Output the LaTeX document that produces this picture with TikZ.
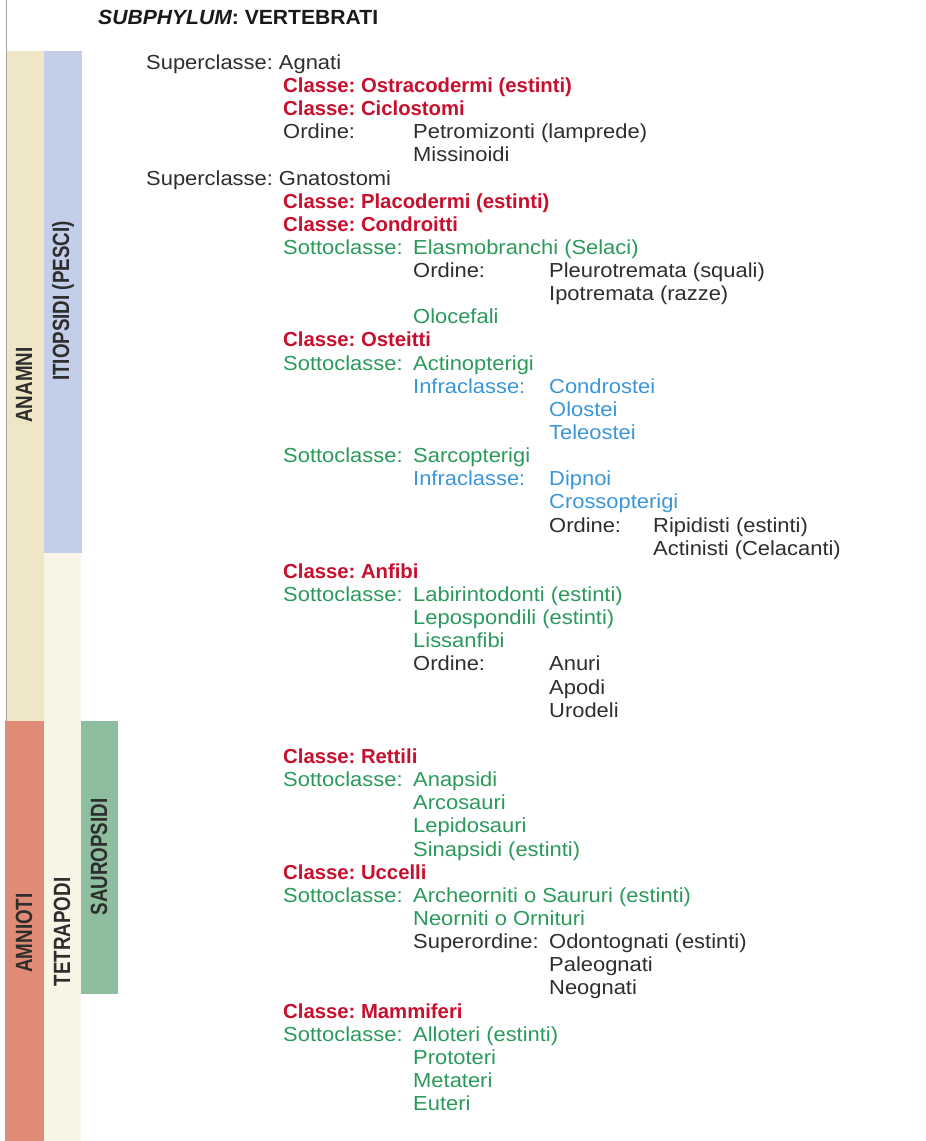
\documentclass[tikz,border=0pt]{standalone}
\usepackage{fontspec}
\setmainfont{Liberation Sans}
\newfontfamily\rgfont{Liberation Sans}[FakeStretch=1.08]
\newfontfamily\bdfont{Liberation Sans}[FakeStretch=1.0]
\newfontfamily\ttlfont{Liberation Sans}[FakeStretch=1.03]
\newfontfamily\condfont{Liberation Sans}[FakeStretch=0.8]
\definecolor{beigeA}{HTML}{EFE6C8}
\definecolor{blueB}{HTML}{C3CFE9}
\definecolor{creamC}{HTML}{F8F5E7}
\definecolor{salmonD}{HTML}{E08B76}
\definecolor{greenE}{HTML}{8DBF9E}
\definecolor{redT}{HTML}{C8102E}
\definecolor{greenT}{HTML}{2A9A5B}
\definecolor{blueT}{HTML}{3A96D8}
\definecolor{txtT}{HTML}{2E2E2E}
\newcommand\Rw[5]{\node[#4] (#1) at (#2,{69.3+23.14*#3}) {#5};}
\begin{document}
\begin{tikzpicture}[x=1pt,y=-1pt,
  tx/.style={anchor=base west, inner sep=0pt, font=\frenchspacing\rgfont\fontsize{20.3}{24}\selectfont, text=txtT},
  cl/.style={tx, font=\frenchspacing\bdfont\bfseries\fontsize{20.3}{24}\selectfont, text=redT},
  gr/.style={tx, text=greenT},
  bl/.style={tx, text=blueT},
  barlab/.style={rotate=90, inner sep=0pt, font=\condfont\bfseries\fontsize{23.5}{26}\selectfont, text=txtT}]
\useasboundingbox[fill=white] (0,0) rectangle (926,1141);
% bars
\fill[beigeA] (7,51) rectangle (44,721);
\fill[blueB] (44,51) rectangle (82,553);
\fill[creamC] (44,553) rectangle (81,1141);
\fill[salmonD] (5,721) rectangle (44,1141);
\fill[greenE] (81,721) rectangle (118,994);
\draw[black!35, line width=1pt] (6,0) -- (6,721);
\node[barlab] (anamni) at (24,385) {ANAMNI};
\node[barlab] (itiop) at (63,301) {ITIOPSIDI (PESCI)};
\node[barlab] (amnioti) at (24,933) {AMNIOTI};
\node[barlab] (tetra) at (62,932) {TETRAPODI};
\node[barlab] (sauro) at (99,857) {SAUROPSIDI};
% title
\node[tx, font=\frenchspacing\ttlfont\bfseries\fontsize{20.5}{24}\selectfont, text=black!90] (title) at (98,24) {{\itshape SUBPHYLUM}: VERTEBRATI};
% rows
\Rw{a0}{146}{0}{tx}{Superclasse: Agnati}
\Rw{a1}{283}{1}{cl}{Classe: Ostracodermi (estinti)}
\Rw{a2}{283}{2}{cl}{Classe: Ciclostomi}
\Rw{a3}{283}{3}{tx}{Ordine:}
\Rw{b3}{413}{3}{tx}{Petromizonti (lamprede)}
\Rw{b4}{413}{4}{tx}{Missinoidi}
\Rw{a5}{146}{5}{tx}{Superclasse: Gnatostomi}
\Rw{a6}{283}{6}{cl}{Classe: Placodermi (estinti)}
\Rw{a7}{283}{7}{cl}{Classe: Condroitti}
\Rw{a8}{283}{8}{gr}{Sottoclasse:}
\Rw{b8}{413}{8}{gr}{Elasmobranchi (Selaci)}
\Rw{b9}{413}{9}{tx}{Ordine:}
\Rw{c9}{549}{9}{tx}{Pleurotremata (squali)}
\Rw{c10}{549}{10}{tx}{Ipotremata (razze)}
\Rw{b11}{413}{11}{gr}{Olocefali}
\Rw{a12}{283}{12}{cl}{Classe: Osteitti}
\Rw{a13}{283}{13}{gr}{Sottoclasse:}
\Rw{b13}{413}{13}{gr}{Actinopterigi}
\Rw{b14}{413}{14}{bl}{Infraclasse:}
\Rw{c14}{549}{14}{bl}{Condrostei}
\Rw{c15}{549}{15}{bl}{Olostei}
\Rw{c16}{549}{16}{bl}{Teleostei}
\Rw{a17}{283}{17}{gr}{Sottoclasse:}
\Rw{b17}{413}{17}{gr}{Sarcopterigi}
\Rw{b18}{413}{18}{bl}{Infraclasse:}
\Rw{c18}{549}{18}{bl}{Dipnoi}
\Rw{c19}{549}{19}{bl}{Crossopterigi}
\Rw{c20}{549}{20}{tx}{Ordine:}
\Rw{d20}{653}{20}{tx}{Ripidisti (estinti)}
\Rw{d21}{653}{21}{tx}{Actinisti (Celacanti)}
\Rw{a22}{283}{22}{cl}{Classe: Anfibi}
\Rw{a23}{283}{23}{gr}{Sottoclasse:}
\Rw{b23}{413}{23}{gr}{Labirintodonti (estinti)}
\Rw{b24}{413}{24}{gr}{Lepospondili (estinti)}
\Rw{b25}{413}{25}{gr}{Lissanfibi}
\Rw{b26}{413}{26}{tx}{Ordine:}
\Rw{c26}{549}{26}{tx}{Anuri}
\Rw{c27}{549}{27}{tx}{Apodi}
\Rw{c28}{549}{28}{tx}{Urodeli}
\Rw{a30}{283}{30}{cl}{Classe: Rettili}
\Rw{a31}{283}{31}{gr}{Sottoclasse:}
\Rw{b31}{413}{31}{gr}{Anapsidi}
\Rw{b32}{413}{32}{gr}{Arcosauri}
\Rw{b33}{413}{33}{gr}{Lepidosauri}
\Rw{b34}{413}{34}{gr}{Sinapsidi (estinti)}
\Rw{a35}{283}{35}{cl}{Classe: Uccelli}
\Rw{a36}{283}{36}{gr}{Sottoclasse:}
\Rw{b36}{413}{36}{gr}{Archeorniti o Saururi (estinti)}
\Rw{b37}{413}{37}{gr}{Neorniti o Ornituri}
\Rw{b38}{413}{38}{tx}{Superordine:}
\Rw{c38}{549}{38}{tx}{Odontognati (estinti)}
\Rw{c39}{549}{39}{tx}{Paleognati}
\Rw{c40}{549}{40}{tx}{Neognati}
\Rw{a41}{283}{41}{cl}{Classe: Mammiferi}
\Rw{a42}{283}{42}{gr}{Sottoclasse:}
\Rw{b42}{413}{42}{gr}{Alloteri (estinti)}
\Rw{b43}{413}{43}{gr}{Prototeri}
\Rw{b44}{413}{44}{gr}{Metateri}
\Rw{b45}{413}{45}{gr}{Euteri}
\end{tikzpicture}
\end{document}
